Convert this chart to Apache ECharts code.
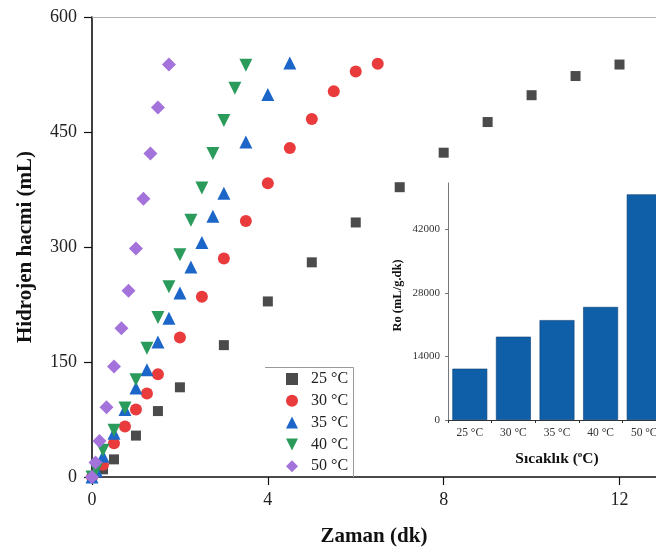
<!DOCTYPE html>
<html>
<head>
<meta charset="utf-8">
<script src="https://cdn.jsdelivr.net/npm/echarts@6/dist/echarts.min.js"></script>
<style>
  html, body { margin: 0; padding: 0; background: #fff; }
  #chart { width: 656px; height: 553px; }
</style>
</head>
<body>
<div id="chart"></div>
<script>
// main plot data: time (dk) and hydrogen volume (mL)
var time25 = [0, 0.25, 0.5, 1, 1.5, 2, 3, 4, 5, 6, 7, 8, 9, 10, 11, 12];
var vol25  = [0, 10, 23, 54, 86, 117, 172, 229, 280, 332, 378, 423, 463, 498, 523, 538];

var time30 = [0, 0.25, 0.5, 0.75, 1, 1.25, 1.5, 2, 2.5, 3, 3.5, 4, 4.5, 5, 5.5, 6, 6.5];
var vol30  = [0, 16, 44, 66, 88, 109, 134, 182, 235, 285, 334, 383, 429, 467, 503, 529, 539];

var time35 = [0, 0.1, 0.25, 0.5, 0.75, 1, 1.25, 1.5, 1.75, 2, 2.25, 2.5, 2.75, 3, 3.5, 4, 4.5];
var vol35  = [0, 8, 27, 57, 88, 116, 140, 176, 207, 240, 274, 306, 340, 370, 437, 499, 540];

var time40 = [0, 0.1, 0.25, 0.5, 0.75, 1, 1.25, 1.5, 1.75, 2, 2.25, 2.5, 2.75, 3, 3.25, 3.5];
var vol40  = [0, 10, 35, 61, 90, 127, 168, 208, 248, 290, 335, 377, 422, 465, 507, 537];

var time50 = [0, 0.08, 0.17, 0.33, 0.5, 0.67, 0.83, 1, 1.17, 1.33, 1.5, 1.75];
var vol50  = [0, 19, 47, 91, 144, 194, 243, 298, 363, 422, 482, 538];

var seriesNames = ['25 °C', '30 °C', '35 °C', '40 °C', '50 °C'];

// inset bar data: initial rate Ro
var insetCats = ['25 °C', '30 °C', '35 °C', '40 °C', '50 °C'];
var insetVals = [11300, 18350, 22000, 24900, 49700];

var FONT = '"Liberation Serif", "DejaVu Serif", serif';
var DOWN_TRIANGLE = 'path://M0,0L10,0L5,10Z';

function pairs(t, v) {
    var out = [];
    for (var i = 0; i < t.length; i++) out.push([t[i], v[i]]);
    return out;
}

var myChart = echarts.init(document.getElementById('chart'));

var option = {
    animation: false,
    backgroundColor: '#fff',
    textStyle: { fontFamily: FONT },
    grid: [
        { left: 92, top: 17, right: 0, bottom: 76, outerBoundsMode: 'none' },
        { left: 448, top: 183, width: 218, height: 237, outerBoundsMode: 'none',
          show: true, borderWidth: 0, backgroundColor: '#fff' }
    ],
    legend: {
        orient: 'vertical',
        left: 281,
        top: 366,
        itemWidth: 12,
        itemHeight: 12,
        itemGap: 5.8,
        data: seriesNames,
        textStyle: { fontFamily: FONT, fontSize: 16, color: '#222', padding: [0, 0, 0, 8] }
    },
    graphic: [{
        type: 'polyline',
        shape: { points: [[265, 367.5], [353.5, 367.5], [353.5, 477]] },
        style: { stroke: '#9a9a9a', lineWidth: 1, fill: null },
        z: 10
    }],
    xAxis: [{
        gridIndex: 0,
        type: 'value',
        min: 0, max: 12.83, interval: 4,
        name: 'Zaman (dk)',
        nameLocation: 'middle',
        nameGap: 49,
        nameTextStyle: { fontFamily: FONT, fontSize: 21, fontWeight: 'bold', color: '#111' },
        axisLine: { lineStyle: { color: '#111', width: 1.6 } },
        axisTick: { show: true, length: 8, lineStyle: { color: '#111', width: 1.2 } },
        axisLabel: { fontFamily: FONT, fontSize: 18, color: '#222', margin: 14, showMaxLabel: false },
        splitLine: { show: false }
    }, {
        // top frame line of the main plot
        gridIndex: 0,
        type: 'value',
        position: 'top',
        min: 0, max: 12.83,
        axisLine: { show: true, lineStyle: { color: '#b0b0b0', width: 1 } },
        axisTick: { show: false },
        axisLabel: { show: false },
        splitLine: { show: false }
    }, {
        gridIndex: 1,
        type: 'category',
        data: insetCats,
        name: 'Sıcaklık ({sup|o}C)',
        nameLocation: 'middle',
        nameGap: 30,
        nameTextStyle: {
            fontFamily: FONT, fontSize: 15.5, fontWeight: 'bold', color: '#111',
            rich: { sup: { fontFamily: FONT, fontSize: 9, fontWeight: 'bold', color: '#111', padding: [0, 0, 8, 0] } }
        },
        axisLine: { lineStyle: { color: '#333', width: 1 } },
        axisTick: { show: true, length: 3, lineStyle: { color: '#333' } },
        axisLabel: { fontFamily: FONT, fontSize: 11.5, color: '#333', margin: 7 }
    }],
    yAxis: [{
        gridIndex: 0,
        type: 'value',
        min: 0, max: 600, interval: 150,
        name: 'Hidrojen hacmi (mL)',
        nameLocation: 'middle',
        nameGap: 56,
        nameTextStyle: { fontFamily: FONT, fontSize: 21, fontWeight: 'bold', color: '#111' },
        axisLine: { show: true, lineStyle: { color: '#111', width: 1.6 } },
        axisTick: { show: true, length: 8, lineStyle: { color: '#111', width: 1.2 } },
        axisLabel: { fontFamily: FONT, fontSize: 18, color: '#222', margin: 15 },
        splitLine: { show: false }
    }, {
        gridIndex: 1,
        type: 'value',
        min: 0, max: 52200, interval: 14000,
        name: 'Ro (mL/g.dk)',
        nameLocation: 'middle',
        nameGap: 44,
        nameTextStyle: { fontFamily: FONT, fontSize: 12.5, fontWeight: 'bold', color: '#111', padding: [0, 0, 0, 12] },
        axisLine: { show: true, lineStyle: { color: '#777', width: 1 } },
        axisTick: { show: true, length: 3, lineStyle: { color: '#777' } },
        axisLabel: {
            fontFamily: FONT, fontSize: 11, color: '#333', margin: 8, showMaxLabel: false,
            formatter: function (v) { return String(v); }
        },
        splitLine: { show: false }
    }],
    series: [
        {
            name: '25 °C', type: 'scatter', xAxisIndex: 0, yAxisIndex: 0,
            symbol: 'rect', symbolSize: 10,
            itemStyle: { color: '#4b4b4b', opacity: 1 },
            data: pairs(time25, vol25)
        },
        {
            name: '30 °C', type: 'scatter', xAxisIndex: 0, yAxisIndex: 0,
            symbol: 'circle', symbolSize: 12,
            itemStyle: { color: '#e93a3c', opacity: 1 },
            data: pairs(time30, vol30)
        },
        {
            name: '35 °C', type: 'scatter', xAxisIndex: 0, yAxisIndex: 0,
            symbol: 'triangle', symbolSize: 13,
            itemStyle: { color: '#1c66c9', opacity: 1 },
            data: pairs(time35, vol35)
        },
        {
            name: '40 °C', type: 'scatter', xAxisIndex: 0, yAxisIndex: 0,
            symbol: DOWN_TRIANGLE, symbolSize: 13,
            itemStyle: { color: '#2b9b5c', opacity: 1 },
            data: pairs(time40, vol40)
        },
        {
            name: '50 °C', type: 'scatter', xAxisIndex: 0, yAxisIndex: 0,
            symbol: 'diamond', symbolSize: 14,
            itemStyle: { color: '#a373db', opacity: 1 },
            data: pairs(time50, vol50)
        },
        {
            name: 'Ro', type: 'bar', xAxisIndex: 2, yAxisIndex: 1,
            barCategoryGap: '20%',
            itemStyle: { color: '#0f5fa8', borderColor: '#0a3f75', borderWidth: 0.6 },
            data: insetVals
        }
    ]
};

myChart.setOption(option);
</script>
</body>
</html>
